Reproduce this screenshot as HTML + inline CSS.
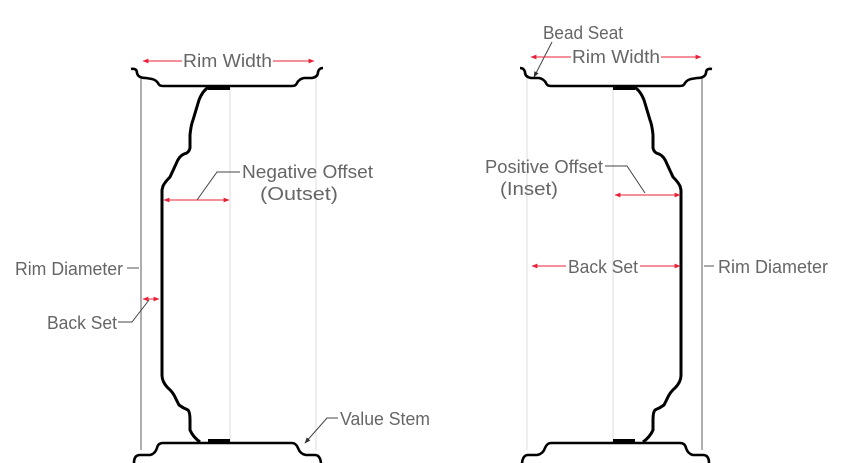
<!DOCTYPE html>
<html><head><meta charset="utf-8"><style>
html,body{margin:0;padding:0;background:#fff;}
svg{display:block;}
text{font-family:"Liberation Sans",sans-serif;font-size:18.5px;fill:#666;}
</style></head><body>
<svg width="860" height="463" viewBox="0 0 860 463" xmlns="http://www.w3.org/2000/svg">
<defs>
<marker id="ar" viewBox="0 0 10 10" refX="9" refY="5" markerWidth="6" markerHeight="6" orient="auto-start-reverse"><path d="M0,1 L10,5 L0,9 z" fill="#e8213a"/></marker>
<marker id="ak" viewBox="0 0 10 10" refX="9" refY="5" markerWidth="6" markerHeight="6" orient="auto"><path d="M0,1 L10,5 L0,9 z" fill="#333"/></marker>
<g id="wheel">
<line x1="141" y1="78" x2="141" y2="450" stroke="#777" stroke-width="1.2"/>
<line x1="230" y1="88" x2="230" y2="443" stroke="#ddd" stroke-width="1"/>
<line x1="316" y1="78" x2="316" y2="450" stroke="#ddd" stroke-width="1"/>
<path d="M131,69 Q137,68 137,73 Q138,78 146,78 L152,79 Q156,80 158,83 Q159,86 163,86 L292,86 Q296,86 297,83 Q299,79 304,78 L312,78 Q318,77 318,72 Q319,68 323,68" fill="none" stroke="#000" stroke-width="2.6"/>
<path d="M134,463 Q134,455 140,455 L150,455 Q155,454 157,448 Q158,443 163,443 L292,443 Q296,443 298,448 Q300,454 306,455 L315,455 Q320,455 321,463" fill="none" stroke="#000" stroke-width="2.6"/>
<rect x="208" y="85" width="22" height="5" fill="#000"/>
<rect x="208" y="439" width="22" height="5" fill="#000"/>
<path d="M209,87 Q203,90 199,100 L193,120 Q191,125 190,135 L190,148 Q189,153 184,154 Q179,156 176,164 L170,177 Q165,182 163,186 L162,190 L162,375 Q162,382 168,388 Q173,392 176,399 L179,405 Q183,408 188,410 Q190,412 190,420 L190,430 Q193,437 200,442" fill="none" stroke="#000" stroke-width="3"/>
</g>
</defs>
<use href="#wheel"/>
<use href="#wheel" transform="translate(843,0) scale(-1,1)"/>

<!-- Left labels -->
<line x1="143" y1="61" x2="182" y2="61" stroke="#e8213a" stroke-width="1" marker-start="url(#ar)"/>
<line x1="273" y1="61" x2="314" y2="61" stroke="#e8213a" stroke-width="1" marker-end="url(#ar)"/>
<text x="183" y="67" textLength="89" lengthAdjust="spacingAndGlyphs">Rim Width</text>
<text x="242" y="178" textLength="131" lengthAdjust="spacingAndGlyphs">Negative Offset</text>
<text x="260" y="200" textLength="78" lengthAdjust="spacingAndGlyphs">(Outset)</text>
<polyline points="240,172 217,172 197,200" fill="none" stroke="#444" stroke-width="1"/>
<line x1="164" y1="200" x2="229" y2="200" stroke="#e8213a" stroke-width="1" marker-start="url(#ar)" marker-end="url(#ar)"/>
<text x="15" y="275" textLength="108" lengthAdjust="spacingAndGlyphs">Rim Diameter</text>
<line x1="127" y1="268" x2="139" y2="268" stroke="#555" stroke-width="1"/>
<line x1="143" y1="299" x2="159" y2="299" stroke="#e8213a" stroke-width="1" marker-start="url(#ar)" marker-end="url(#ar)"/>
<text x="47" y="329" textLength="70" lengthAdjust="spacingAndGlyphs">Back Set</text>
<polyline points="118,322 132,322 149,300" fill="none" stroke="#444" stroke-width="1"/>
<text x="340" y="425" textLength="90" lengthAdjust="spacingAndGlyphs">Value Stem</text>
<polyline points="338,418 327,418 305,443" fill="none" stroke="#444" stroke-width="1" marker-end="url(#ak)"/>

<!-- Right labels -->
<text x="543" y="39" textLength="80" lengthAdjust="spacingAndGlyphs">Bead Seat</text>
<line x1="552" y1="42" x2="534" y2="77" stroke="#444" stroke-width="1" marker-end="url(#ak)"/>
<line x1="531" y1="57" x2="571" y2="57" stroke="#e8213a" stroke-width="1" marker-start="url(#ar)"/>
<line x1="661" y1="57" x2="701" y2="57" stroke="#e8213a" stroke-width="1" marker-end="url(#ar)"/>
<text x="572" y="63" textLength="88" lengthAdjust="spacingAndGlyphs">Rim Width</text>
<text x="485" y="173" textLength="118" lengthAdjust="spacingAndGlyphs">Positive Offset</text>
<text x="500" y="195" textLength="58" lengthAdjust="spacingAndGlyphs">(Inset)</text>
<polyline points="605,166 627,166 645,193" fill="none" stroke="#444" stroke-width="1"/>
<line x1="615" y1="195" x2="680" y2="195" stroke="#e8213a" stroke-width="1" marker-start="url(#ar)" marker-end="url(#ar)"/>
<line x1="532" y1="266" x2="566" y2="266" stroke="#e8213a" stroke-width="1" marker-start="url(#ar)"/>
<line x1="640" y1="266" x2="680" y2="266" stroke="#e8213a" stroke-width="1" marker-end="url(#ar)"/>
<text x="568" y="273" textLength="70" lengthAdjust="spacingAndGlyphs">Back Set</text>
<line x1="704" y1="266" x2="714" y2="266" stroke="#555" stroke-width="1"/>
<text x="718" y="273" textLength="110" lengthAdjust="spacingAndGlyphs">Rim Diameter</text>
</svg>
</body></html>
